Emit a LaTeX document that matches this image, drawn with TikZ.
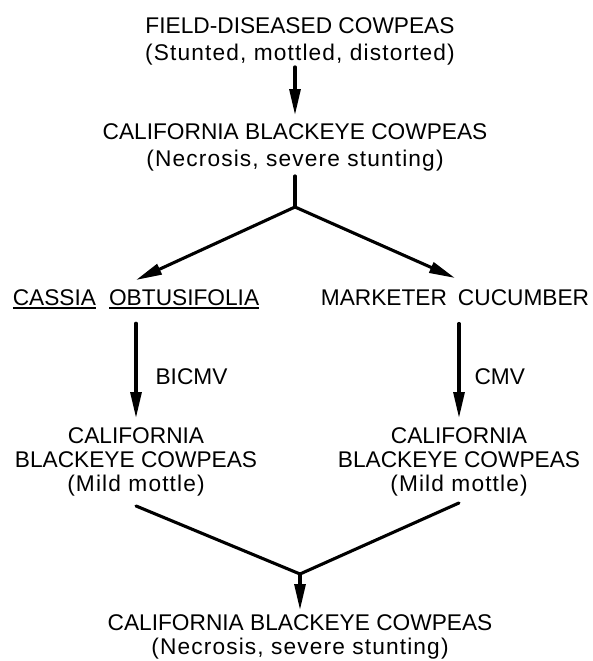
\documentclass[tikz,border=0pt]{standalone}
\usepackage{fontspec}
\setmainfont{Liberation Sans}
\usetikzlibrary{arrows.meta}
\newcommand{\ulname}[1]{\vtop{\hbox{#1}\kern2pt\hrule height 1.8pt}}
\newcommand{\symptom}[1]{{\addfontfeature{LetterSpace=5}#1}}

\begin{document}
\begin{tikzpicture}[x=1pt, y=-1pt,
  txt/.style={inner sep=0pt, align=center, anchor=north, font=\fontsize{22.7}{24}\selectfont},
  loose/.style={font=\fontsize{22.7}{27}\selectfont},
  arrow/.style={-{Triangle[length=26pt, width=11pt]}, line width=3.1pt, line cap=round},
  link/.style={line width=3.1pt, line cap=round, line join=miter},
]
  \useasboundingbox (0,0) rectangle (592,661);
  \node[txt, loose] (field) at (300,17) {FIELD-DISEASED COWPEAS\\\symptom{(Stunted, mottled, distorted)}};
  \node[txt, loose] (ca) at (295,123) {CALIFORNIA BLACKEYE COWPEAS\\\symptom{(Necrosis, severe stunting)}};
  \node[txt] (cassia) at (136,289) {\ulname{CASSIA}\hspace{13pt}\ulname{OBTUSIFOLIA}};
  \node[txt] (marketer) at (455,289) {MARKETER\hspace{11pt}CUCUMBER};
  \node[txt] (mildl) at (136,427) {CALIFORNIA\\BLACKEYE COWPEAS\\\symptom{(Mild mottle)}};
  \node[txt] (mildr) at (459,427) {CALIFORNIA\\BLACKEYE COWPEAS\\\symptom{(Mild mottle)}};
  \node[txt] (bottom) at (300,614) {CALIFORNIA BLACKEYE COWPEAS\\\symptom{(Necrosis, severe stunting)}};
  \coordinate (branch) at (295,207);
  \coordinate (join) at (300,574);

  \draw[arrow, shorten <=2pt, shorten >=8pt] (field.south -| ca.north) -- (ca.north);
  \draw[link, shorten <=5pt] (ca.south) -- (branch);
  \draw[arrow] (branch) -- ([yshift=9pt]cassia.north);
  \draw[arrow] (branch) -- ([yshift=11pt]marketer.north);
  \draw[arrow, shorten <=14pt, shorten >=9pt] (cassia.south) -- (mildl.north)
    node[pos=0.576, right=18pt, txt, anchor=west] (bicmv) {BICMV};
  \draw[arrow, shorten <=18pt, shorten >=9pt] (marketer.south -| mildr.north) -- (mildr.north)
    node[pos=0.59, right=14pt, txt, anchor=west] (cmv) {CMV};
  \draw[link] ([yshift=-10pt]mildl.south) -- (join) -- ([yshift=-7pt]mildr.south);
  \draw[arrow, shorten >=4pt] (join) -- (bottom.north);
\end{tikzpicture}
\end{document}
